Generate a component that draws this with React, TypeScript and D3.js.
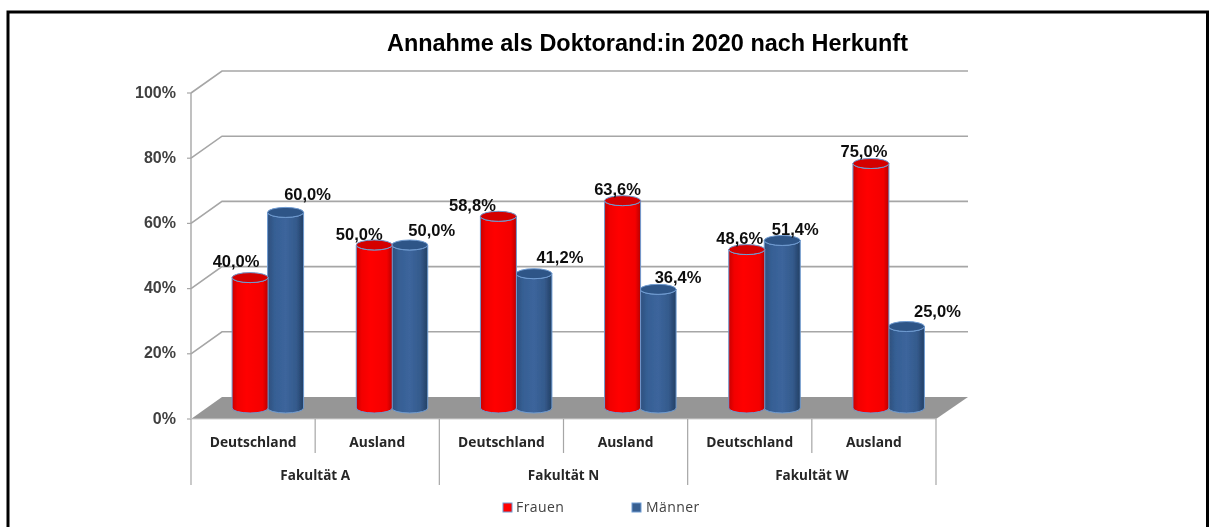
import React from "react";
import * as d3 from "d3";

const faculties = ["Fakultät A", "Fakultät N", "Fakultät W"];
const origins = ["Deutschland", "Ausland", "Deutschland", "Ausland", "Deutschland", "Ausland"];
const frauen = [40.0, 50.0, 58.8, 63.6, 48.6, 75.0];
const maenner = [60.0, 50.0, 41.2, 36.4, 51.4, 25.0];
const yTicks = [0, 20, 40, 60, 80, 100];
const title = "Annahme als Doktorand:in 2020 nach Herkunft";

// manual label placement of the original (layout, not data)
const frauenLabelShift = [[-14, -16], [-15, -11], [-26, -11], [-5, -11], [-7, -11], [-7, -12]];
const maennerLabelShift = [[22, -18], [22, -15], [26, -16], [20, -12], [13, -11], [31, -15]];

const fmt = (v: number) => v.toFixed(1).replace(".", ",") + "%";

const W = 1210, H = 527;
const x0 = 191, x1 = 936, depthX = 31, depthY = 22;
const y = d3.scaleLinear().domain([0, 100]).range([419, 93]);
const band = d3.scaleBand<number>().domain(d3.range(6)).range([x0, x1]);
const inner = d3.scaleBand<string>().domain(["f", "m"]).range([0, 72]);
const barW = 36, ry = 5;
const baseShiftY = -11;
const GREY = "#a6a6a6";
const RIM = "#6f9bd1";
const FONT = "'Liberation Sans', Arial, sans-serif";
const CAT = "'Open Sans', 'Noto Sans', sans-serif";

function Cylinder({ cx, v, body, top }: { cx: number; v: number; body: string; top: string }) {
  const b = y(0) + baseShiftY;
  const t = y(v) + baseShiftY;
  const l = cx - barW / 2, r = cx + barW / 2;
  const d = `M${l},${t}L${l},${b}A${barW / 2},${ry} 0 0 0 ${r},${b}L${r},${t}A${barW / 2},${ry} 0 0 1 ${l},${t}Z`;
  return (
    <g>
      <path d={d} fill={`url(#${body})`} stroke={RIM} strokeWidth={1} />
      <ellipse cx={cx} cy={t} rx={barW / 2} ry={ry} fill={top} stroke={RIM} strokeWidth={1} />
    </g>
  );
}

export default function App() {
  const centers = band.domain().map((i) => band(i)! + band.bandwidth() / 2 + depthX / 2 - 0.5);
  const xF = (i: number) => centers[i] - 36 + inner("f")! + barW / 2;
  const xM = (i: number) => centers[i] - 36 + inner("m")! + barW / 2 - 0.5;
  const line = d3.line();
  return (
    <svg width={W} height={H} style={{ position: "absolute", left: 0, top: 0, background: "#fff" }}>
      <defs>
        <linearGradient id="redG">
          <stop offset="0" stopColor="#c80000" />
          <stop offset="0.15" stopColor="#f20000" />
          <stop offset="0.4" stopColor="#ff0000" />
          <stop offset="0.85" stopColor="#f40000" />
          <stop offset="1" stopColor="#b80000" />
        </linearGradient>
        <linearGradient id="blueG">
          <stop offset="0" stopColor="#2d4f7c" />
          <stop offset="0.2" stopColor="#365f94" />
          <stop offset="0.5" stopColor="#3c659c" />
          <stop offset="0.8" stopColor="#345a8c" />
          <stop offset="1" stopColor="#233f64" />
        </linearGradient>
        <filter id="soft" x="-5%" y="-5%" width="110%" height="110%">
          <feGaussianBlur stdDeviation="0.4" />
        </filter>
      </defs>

      {/* frame */}
      <rect x={8} y={12} width={1199.5} height={530} fill="none" stroke="#000" strokeWidth={3} />

      <g filter="url(#soft)">
        {/* walls and gridlines */}
        {yTicks.slice(1).map((t) => (
          <path
            key={t}
            d={line([[x0, y(t)], [x0 + depthX, y(t) - depthY], [x1 + depthX + 1, y(t) - depthY]])!}
            fill="none"
            stroke={GREY}
            strokeWidth={1.6}
          />
        ))}
        {/* floor */}
        <polygon
          points={[[x0, y(0)], [x0 + depthX, y(0) - depthY], [x1 + depthX + 1, y(0) - depthY], [x1, y(0)]].join(" ")}
          fill="#969696"
        />
        {/* axis */}
        <line x1={x0} x2={x0} y1={y(100)} y2={y(0)} stroke={GREY} strokeWidth={1.4} />
        {yTicks.map((t) => (
          <line key={t} x1={x0 - 4} x2={x0} y1={y(t)} y2={y(t)} stroke={GREY} strokeWidth={1.2} />
        ))}
        <line x1={x0 - 4} x2={x1} y1={y(0)} y2={y(0)} stroke="#d0d0d0" strokeWidth={1.2} />

        {/* category dividers */}
        {d3.range(7).map((i) => {
          const xp = x0 + band.step() * i;
          return (
            <line key={i} x1={xp} x2={xp} y1={y(0)} y2={i % 2 === 0 ? 485 : 453} stroke={GREY} strokeWidth={1.2} />
          );
        })}

        {/* bars */}
        {frauen.map((v, i) => (
          <g key={i}>
            <Cylinder cx={xM(i)} v={maenner[i]} body="blueG" top="#2f5587" />
            <Cylinder cx={xF(i)} v={v} body="redG" top="#d40000" />
          </g>
        ))}

        {/* y tick labels */}
        {yTicks.map((t) => (
          <text key={t} x={176} y={y(t) - 1} dy="0.35em" textAnchor="end" fontFamily={FONT} fontSize={16} fontWeight={700} fill="#404040">
            {t}%
          </text>
        ))}

        {/* value labels */}
        {frauen.map((v, i) => (
          <text key={i} x={xF(i) + frauenLabelShift[i][0]} y={y(v) + baseShiftY + frauenLabelShift[i][1]} dy="0.35em" textAnchor="middle" fontFamily={FONT} fontSize={16.5} fontWeight={700} fill="#111">
            {fmt(v)}
          </text>
        ))}
        {maenner.map((v, i) => (
          <text key={i} x={xM(i) + maennerLabelShift[i][0]} y={y(v) + baseShiftY + maennerLabelShift[i][1]} dy="0.35em" textAnchor="middle" fontFamily={FONT} fontSize={16.5} fontWeight={700} fill="#111">
            {fmt(v)}
          </text>
        ))}

        {/* category labels */}
        {origins.map((o, i) => (
          <text key={i} x={band(i)! + band.bandwidth() / 2} y={442} dy="0.35em" textAnchor="middle" fontFamily={CAT} fontSize={13.8} fontWeight={700} fill="#262626">
            {o}
          </text>
        ))}
        {faculties.map((f, i) => (
          <text key={f} x={x0 + band.step() * (2 * i + 1)} y={475} dy="0.35em" textAnchor="middle" fontFamily={CAT} fontSize={13.5} fontWeight={700} fill="#262626">
            {f}
          </text>
        ))}

        {/* title */}
        <text x={647.5} y={43} dy="0.35em" textAnchor="middle" fontFamily={FONT} fontSize={23.45} fontWeight={700} fill="#000">
          {title}
        </text>

        {/* legend */}
        <rect x={503} y={503} width={9} height={9} fill="#ff0000" stroke={RIM} />
        <text x={516} y={507.5} dy="0.35em" fontFamily={CAT} fontSize={14} letterSpacing={0.4} fill="#404040">Frauen</text>
        <rect x={632} y={503} width={9} height={9} fill="#376092" stroke={RIM} />
        <text x={646} y={507.5} dy="0.35em" fontFamily={CAT} fontSize={14} letterSpacing={0.4} fill="#404040">Männer</text>
      </g>
    </svg>
  );
}
